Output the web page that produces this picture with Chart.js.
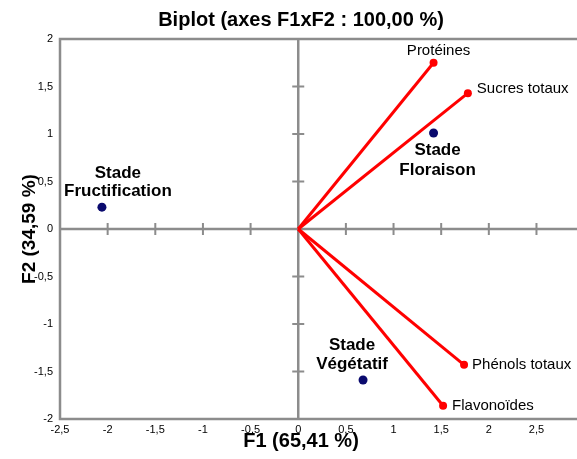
<!DOCTYPE html>
<html>
<head>
<meta charset="utf-8">
<script src="https://cdn.jsdelivr.net/npm/chart.js@4.4.0/dist/chart.umd.min.js"></script>
<style>
  html, body { margin: 0; padding: 0; background: #fff; }
</style>
</head>
<body>
<canvas id="biplot" width="577" height="459"></canvas>
<script>
// observations (stages)
const obsNames = [['Stade', 'Fructification'], ['Stade', 'Floraison'], ['Stade', 'Végétatif']];
const obsF1 = [-2.06, 1.42, 0.68];
const obsF2 = [0.23, 1.01, -1.59];

// variables (vectors)
const varNames = ['Protéines', 'Sucres totaux', 'Phénols totaux', 'Flavonoïdes'];
const varF1 = [1.42, 1.78, 1.74, 1.52];
const varF2 = [1.75, 1.43, -1.43, -1.86];

// tick labels
const xTicks = [-2.5, -2, -1.5, -1, -0.5, 0, 0.5, 1, 1.5, 2, 2.5];
const yTicks = [-2, -1.5, -1, -0.5, 0, 0.5, 1, 1.5, 2];

const FONT = '"Liberation Sans", Arial, sans-serif';
const AXIS_GREY = '#8c8c8c';
const fmt = v => String(v).replace('.', ',');

// label placement, relative to the marker (pixels)
const varLabelPos = [
  { dx: 5, dy: -12, align: 'center' },
  { dx: 9, dy: -4, align: 'left' },
  { dx: 8, dy: 0, align: 'left' },
  { dx: 9, dy: 0, align: 'left' }
];
const obsLabelPos = [
  { dx: 16, dy: [-34, -16] },
  { dx: 4, dy: [17, 37] },
  { dx: -11, dy: [-35, -16] }
];

const datasets = varNames.map((name, i) => ({
  label: name,
  data: [{ x: 0, y: 0 }, { x: varF1[i], y: varF2[i] }],
  showLine: true,
  borderColor: '#ff0000',
  borderWidth: 3,
  pointRadius: [0, 4],
  pointBackgroundColor: '#ff0000',
  pointBorderWidth: 0
}));
datasets.push({
  label: 'Observations',
  data: obsF1.map((x, i) => ({ x, y: obsF2[i] })),
  pointRadius: 4.5,
  pointBackgroundColor: '#0a0a6e',
  pointBorderWidth: 0
});

// frame, zero axes and all texts
const biplotPlugin = {
  id: 'biplot',
  beforeDatasetsDraw(chart) {
    const { ctx, chartArea: a, scales: { x, y } } = chart;
    const x0 = x.getPixelForValue(0);
    const y0 = y.getPixelForValue(0);
    const right = chart.width; // frame runs off the right edge
    ctx.save();
    ctx.strokeStyle = AXIS_GREY;
    ctx.lineWidth = 2.5;
    ctx.beginPath();
    ctx.moveTo(right, a.top); ctx.lineTo(a.left, a.top);
    ctx.lineTo(a.left, a.bottom); ctx.lineTo(right, a.bottom);
    ctx.moveTo(x0, a.top); ctx.lineTo(x0, a.bottom);
    ctx.moveTo(a.left, y0); ctx.lineTo(right, y0);
    ctx.stroke();
    ctx.lineWidth = 2;
    ctx.beginPath();
    xTicks.forEach(v => {
      if (v === 0 || v === xTicks[0]) return;
      const px = x.getPixelForValue(v);
      ctx.moveTo(px, y0 - 6); ctx.lineTo(px, y0 + 6);
    });
    yTicks.forEach(v => {
      if (v === 0 || Math.abs(v) === 2) return;
      const py = y.getPixelForValue(v);
      ctx.moveTo(x0 - 6, py); ctx.lineTo(x0 + 6, py);
    });
    ctx.stroke();
    ctx.restore();
  },
  afterDatasetsDraw(chart) {
    const { ctx } = chart;
    ctx.save();
    ctx.fillStyle = '#000';
    ctx.textBaseline = 'middle';
    ctx.font = '15px ' + FONT;
    varNames.forEach((name, i) => {
      const pt = chart.getDatasetMeta(i).data[1];
      const p = varLabelPos[i];
      ctx.textAlign = p.align;
      ctx.fillText(name, pt.x + p.dx, pt.y + p.dy);
    });
    ctx.font = 'bold 17px ' + FONT;
    ctx.textAlign = 'center';
    const obsMeta = chart.getDatasetMeta(varNames.length);
    obsNames.forEach((lines, i) => {
      const pt = obsMeta.data[i];
      const p = obsLabelPos[i];
      lines.forEach((t, k) => ctx.fillText(t, pt.x + p.dx, pt.y + p.dy[k]));
    });
    ctx.restore();
  },
  afterDraw(chart) {
    const { ctx, chartArea: a } = chart;
    ctx.save();
    ctx.fillStyle = '#000';
    ctx.textAlign = 'center';
    ctx.textBaseline = 'middle';
    ctx.font = 'bold 20px ' + FONT;
    ctx.fillText('Biplot (axes F1xF2 : 100,00 %)', 301, 20);
    ctx.fillText('F1 (65,41 %)', 301, 441);
    ctx.font = 'bold 19px ' + FONT;
    ctx.translate(30, (a.top + a.bottom) / 2);
    ctx.rotate(-Math.PI / 2);
    ctx.fillText('F2 (34,59 %)', 0, 0);
    ctx.restore();
  }
};

new Chart(document.getElementById('biplot'), {
  type: 'scatter',
  data: { datasets },
  plugins: [biplotPlugin],
  options: {
    responsive: false,
    animation: false,
    layout: { padding: { top: 39, left: 0, right: 0, bottom: 0 } },
    plugins: {
      legend: { display: false },
      tooltip: { enabled: false },
      title: { display: false }
    },
    scales: {
      x: {
        type: 'linear',
        min: -2.5,
        max: 2.878,
        grid: { display: false, drawTicks: false },
        border: { display: false },
        afterBuildTicks: s => { s.ticks = xTicks.map(v => ({ value: v })); },
        afterFit: s => { s.height = 40; },
        ticks: {
          padding: 4,
          autoSkip: false,
          maxRotation: 0,
          color: '#000',
          font: { family: FONT, size: 11 },
          callback: v => fmt(v)
        }
      },
      y: {
        type: 'linear',
        min: -2,
        max: 2,
        grid: { display: false, drawTicks: false },
        border: { display: false },
        afterBuildTicks: s => { s.ticks = yTicks.map(v => ({ value: v })); },
        afterFit: s => { s.width = 60; },
        ticks: {
          padding: 7,
          autoSkip: false,
          color: '#000',
          font: { family: FONT, size: 11 },
          callback: v => fmt(v)
        }
      }
    }
  }
});
</script>
</body>
</html>
